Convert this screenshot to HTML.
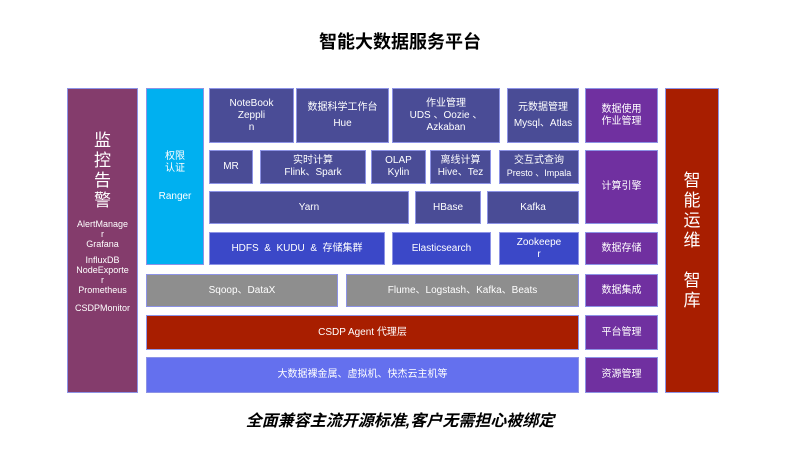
<!DOCTYPE html>
<html><head><meta charset="utf-8"><style>
body{margin:0;width:800px;height:450px;background:#fff;position:relative;overflow:hidden;font-family:"Liberation Sans","Noto Sans CJK SC",sans-serif;}
.b{position:absolute;box-sizing:border-box;border:1px solid #8d93e6;color:#fff;display:flex;flex-direction:column;align-items:center;justify-content:center;text-align:center;font-size:10px;line-height:12px;}
.d{background:#4a4c96;}
.p{background:#7030a0;}
.h{background:#3b48c8;}
.g{background:#8e8e8e;}
</style></head><body>
<div style="position:absolute;top:28px;left:0;width:800px;text-align:center;font-weight:bold;font-size:18px;">智能大数据服务平台</div>

<div class="b" style="left:67px;top:88px;width:71px;height:305px;background:#843c6c;justify-content:flex-start;font-size:9px;line-height:10px;">
<div style="font-size:17px;line-height:20px;margin-top:42px;margin-bottom:8px;">监<br>控<br>告<br>警</div>
<div>AlertManage<br>r<br>Grafana</div><div style="margin-top:6px">InfluxDB<br>NodeExporte<br>r<br>Prometheus</div><div style="margin-top:8px">CSDPMonitor</div></div>

<div class="b" style="left:146px;top:88px;width:58px;height:177px;background:#00b0f0;"><div>权限<br>认证</div><div style="margin-top:16px">Ranger</div></div>

<div class="b d" style="left:209px;top:88px;width:85px;height:55px;"><div>NoteBook<br>Zeppli<br>n</div></div>
<div class="b d" style="left:296px;top:88px;width:93px;height:55px;"><div>数据科学工作台</div><div style="margin-top:4px">Hue</div></div>
<div class="b d" style="left:392px;top:88px;width:108px;height:55px;"><div>作业管理<br>UDS 、Oozie 、<br>Azkaban</div></div>
<div class="b d" style="left:507px;top:88px;width:72px;height:55px;"><div>元数据管理</div><div style="margin-top:4px">Mysql、Atlas</div></div>
<div class="b p" style="left:585px;top:88px;width:73px;height:55px;"><div>数据使用<br>作业管理</div></div>

<div class="b d" style="left:209px;top:150px;width:44px;height:34px;"><div>MR</div></div>
<div class="b d" style="left:260px;top:150px;width:106px;height:34px;"><div>实时计算<br>Flink、Spark</div></div>
<div class="b d" style="left:371px;top:150px;width:55px;height:34px;"><div>OLAP<br>Kylin</div></div>
<div class="b d" style="left:430px;top:150px;width:61px;height:34px;"><div>离线计算<br>Hive、Tez</div></div>
<div class="b d" style="left:499px;top:150px;width:80px;height:34px;"><div>交互式查询</div><div style="font-size:9px;white-space:nowrap">Presto 、Impala</div></div>
<div class="b p" style="left:585px;top:150px;width:73px;height:74px;"><div>计算引擎</div></div>

<div class="b d" style="left:209px;top:191px;width:200px;height:33px;"><div>Yarn</div></div>
<div class="b d" style="left:415px;top:191px;width:66px;height:33px;"><div>HBase</div></div>
<div class="b d" style="left:487px;top:191px;width:92px;height:33px;"><div>Kafka</div></div>

<div class="b h" style="left:209px;top:232px;width:176px;height:33px;"><div>HDFS &nbsp;&amp;&nbsp; KUDU &nbsp;&amp;&nbsp; 存储集群</div></div>
<div class="b h" style="left:392px;top:232px;width:99px;height:33px;"><div>Elasticsearch</div></div>
<div class="b h" style="left:499px;top:232px;width:80px;height:33px;"><div>Zookeepe<br>r</div></div>
<div class="b p" style="left:585px;top:232px;width:73px;height:33px;"><div>数据存储</div></div>

<div class="b g" style="left:146px;top:274px;width:192px;height:33px;"><div>Sqoop、DataX</div></div>
<div class="b g" style="left:346px;top:274px;width:233px;height:33px;"><div>Flume、Logstash、Kafka、Beats</div></div>
<div class="b p" style="left:585px;top:274px;width:73px;height:33px;"><div>数据集成</div></div>

<div class="b" style="left:146px;top:315px;width:433px;height:35px;background:#a81e00;"><div>CSDP Agent 代理层</div></div>
<div class="b p" style="left:585px;top:315px;width:73px;height:35px;"><div>平台管理</div></div>

<div class="b" style="left:146px;top:357px;width:433px;height:36px;background:#6470ee;"><div>大数据裸金属、虚拟机、快杰云主机等</div></div>
<div class="b p" style="left:585px;top:357px;width:73px;height:36px;"><div>资源管理</div></div>

<div class="b" style="left:665px;top:88px;width:54px;height:305px;background:#a81e00;font-size:17px;line-height:20px;"><div>智<br>能<br>运<br>维<br><br>智<br>库</div></div>

<div style="position:absolute;top:407px;left:0;width:800px;text-align:center;font-weight:bold;font-style:italic;font-size:16px;">全面兼容主流开源标准,客户无需担心被绑定</div>
</body></html>
